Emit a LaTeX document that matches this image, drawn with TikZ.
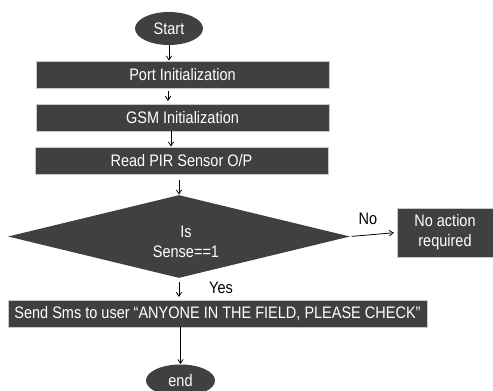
\documentclass[tikz,border=0pt]{standalone}
\usepackage{fontspec}
\setmainfont{Liberation Sans}[FakeStretch=0.87]
\usetikzlibrary{shapes.geometric,arrows.meta}

\begin{document}
\begin{tikzpicture}[x=0.75pt,y=0.75pt,yscale=-1,xscale=1,
  blk/.style={fill={rgb,255:red,64;green,64;blue,64},draw={rgb,255:red,200;green,200;blue,200},line width=0.6pt,text=white,font=\fontsize{12.5}{14}\selectfont,inner sep=0pt},
  term/.style={blk,ellipse,draw=none},
  flow/.style={-{Straight Barb[length=3pt,width=4pt]},line width=0.6pt}]
\useasboundingbox (0,0) rectangle (493,390);

%Shape: Ellipse [id:start]
\node [term,minimum width=51pt,minimum height=24.75pt] (start) at (169,28.5) {Start};
%Shape: Rectangle [id:port]
\node [blk,minimum width=219.75pt,minimum height=20.25pt] (port) at (182.5,74.5) {Port Initialization};
%Shape: Rectangle [id:gsm]
\node [blk,minimum width=219.75pt,minimum height=20.25pt] (gsm) at (182.5,117.5) {GSM Initialization};
%Shape: Rectangle [id:pir]
\node [blk,minimum width=219.75pt,minimum height=20.25pt] (pir) at (181.5,160.5) {Read PIR Sensor O/P};
%Shape: Diamond [id:dec]
\node [blk,diamond,draw=none,minimum width=256.5pt,minimum height=62.25pt,align=center] (dec) at (179,236.5) {};
\node [text=white,font=\fontsize{12.5}{15}\selectfont,align=center,inner sep=0pt] (dectxt) at (186,242) {Is\\Sense==1};
%Shape: Rectangle [id:noact]
\node [blk,minimum width=72pt,minimum height=36.75pt,align=center,font=\fontsize{12.5}{15}\selectfont] (noact) at (445,232.5) {No action\\required};
%Shape: Rectangle [id:sms]
\node [blk,minimum width=314.25pt,minimum height=20.25pt] (sms) at (217.5,313.5) {Send Sms to user “ANYONE IN THE FIELD, PLEASE CHECK”};
%Shape: Ellipse [id:end]
\node [term,minimum width=51.75pt,minimum height=24pt] (end) at (180.5,380.5) {end};

%Straight Lines
\draw [flow] (start.south) -- (start.south |- port.north);
\draw [flow,shorten <=2pt,shorten >=2pt] (port.south -| 168,0) -- (gsm.north -| 168,0);
\draw [flow] (gsm.south -| 171,0) -- (pir.north -| 171,0);
\draw [flow,shorten <=4pt] (pir.south -| dec.north) -- (dec.north);
\draw [flow,shorten <=1pt,shorten >=2pt] (dec.east) -- (noact.west);
\draw [flow,shorten <=3pt,shorten >=2pt] (dec.south) -- (dec.south |- sms.north);
\draw [flow] (end.north |- sms.south) -- (end.north);

% Text Node
\node [font=\fontsize{12.5}{14}\selectfont,inner sep=0.75pt] (nolbl) at (368,219) {No};
% Text Node
\node [font=\fontsize{12.5}{14}\selectfont,inner sep=0.75pt] (yeslbl) at (221,288) {Yes};
\end{tikzpicture}
\end{document}
